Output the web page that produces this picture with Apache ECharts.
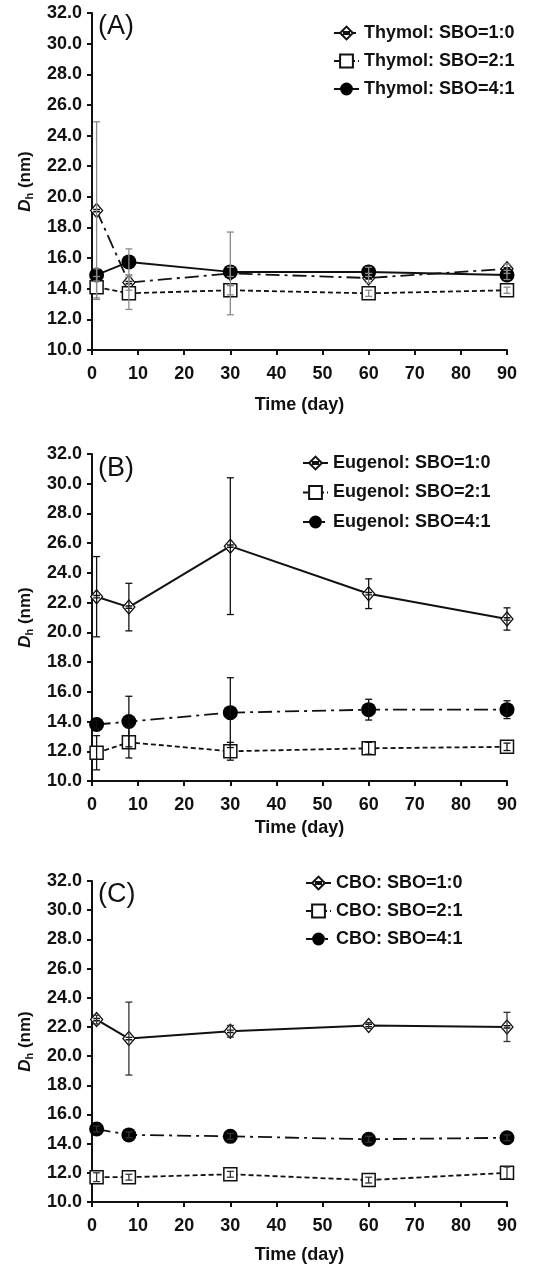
<!DOCTYPE html>
<html>
<head>
<meta charset="utf-8">
<script src="https://cdn.jsdelivr.net/npm/echarts@6/dist/echarts.min.js"></script>
<style>
  html, body { margin: 0; padding: 0; background: #fff; }
  #chart { width: 551px; height: 1267px; }
</style>
</head>
<body>
<div id="chart"></div>
<script>
// Sampling days
const days = [1, 8, 30, 60, 90];

// Axis ticks
const yTicks = [10, 12, 14, 16, 18, 20, 22, 24, 26, 28, 30, 32];
const xTicks = [0, 10, 20, 30, 40, 50, 60, 70, 80, 90];

// (A) Thymol — mean hydrodynamic diameter (nm) and standard deviation
const thymol10 = [19.1, 14.4, 15.0, 14.7, 15.3];
const thymol10Err = [5.8, 0.5, 2.7, 0.3, 0.3];
const thymol21 = [14.1, 13.7, 13.9, 13.7, 13.9];
const thymol21Err = [0.7, 1.05, 0.3, 0.2, 0.2];
const thymol41 = [14.9, 15.75, 15.1, 15.1, 14.9];
const thymol41Err = [0.4, 0.85, 0.3, 0.3, 0.3];

// (B) Eugenol
const eugenol10 = [22.4, 21.7, 25.8, 22.6, 20.9];
const eugenol10Err = [2.7, 1.6, 4.6, 1.0, 0.75];
const eugenol21 = [11.9, 12.6, 12.0, 12.2, 12.3];
const eugenol21Err = [1.15, 1.05, 0.6, 0.4, 0.25];
const eugenol41 = [13.8, 14.0, 14.6, 14.8, 14.8];
const eugenol41Err = [0.3, 1.7, 2.35, 0.7, 0.6];

// (C) CBO
const cbo10 = [22.5, 21.2, 21.7, 22.1, 22.0];
const cbo10Err = [0.3, 2.5, 0.4, 0.2, 1.0];
const cbo21 = [11.7, 11.7, 11.9, 11.5, 12.0];
const cbo21Err = [0.3, 0.2, 0.2, 0.2, 0.4];
const cbo41 = [15.0, 14.6, 14.5, 14.3, 14.4];
const cbo41Err = [0.2, 0.2, 0.2, 0.2, 0.2];

const FONT = "'Liberation Sans', Arial, Helvetica, sans-serif";

// Marker shapes
const diamondSymbol = 'path://M5,0 L10,6 L5,12 L0,6 Z M2.2,5 L7.8,5 M2.2,7 L7.8,7';
const markers = {
  r10: { symbol: diamondSymbol, symbolSize: [12, 14], itemStyle: { color: '#fff', borderColor: '#111', borderWidth: 1.3 } },
  r21: { symbol: 'rect', symbolSize: 13, itemStyle: { color: '#fff', borderColor: '#111', borderWidth: 1.5 } },
  r41: { symbol: 'circle', symbolSize: 15, itemStyle: { color: '#000', borderColor: '#000', borderWidth: 0 } }
};
const dashes = {
  solid: { type: 'solid', width: 2 },
  dashed: { type: [5, 3], width: 1.8 },
  dashDot: { type: [14, 5, 3, 5], width: 1.8 }
};

// Panel definitions
const panels = [
  {
    tag: '(A)', top: 13, height: 337, nameGap: 46, legendLeft: 333, legendTop: 24, legendGap: 10, tagTop: 13,
    barColor: '#8a8a8a',
    series: [
      { name: 'Thymol: SBO=1:0', mean: thymol10, err: thymol10Err, marker: 'r10', line: 'dashDot' },
      { name: 'Thymol: SBO=2:1', mean: thymol21, err: thymol21Err, marker: 'r21', line: 'dashed' },
      { name: 'Thymol: SBO=4:1', mean: thymol41, err: thymol41Err, marker: 'r41', line: 'solid' }
    ]
  },
  {
    tag: '(B)', top: 454, height: 327, nameGap: 38, legendLeft: 302, legendTop: 454, legendGap: 11.5, tagTop: 455,
    barColor: '#111',
    series: [
      { name: 'Eugenol: SBO=1:0', mean: eugenol10, err: eugenol10Err, marker: 'r10', line: 'solid' },
      { name: 'Eugenol: SBO=2:1', mean: eugenol21, err: eugenol21Err, marker: 'r21', line: 'dashed' },
      { name: 'Eugenol: SBO=4:1', mean: eugenol41, err: eugenol41Err, marker: 'r41', line: 'dashDot' }
    ]
  },
  {
    tag: '(C)', top: 881, height: 321, nameGap: 44, legendLeft: 305, legendTop: 874, legendGap: 10, tagTop: 881,
    barColor: '#333',
    series: [
      { name: 'CBO: SBO=1:0', mean: cbo10, err: cbo10Err, marker: 'r10', line: 'solid' },
      { name: 'CBO: SBO=2:1', mean: cbo21, err: cbo21Err, marker: 'r21', line: 'dashed' },
      { name: 'CBO: SBO=4:1', mean: cbo41, err: cbo41Err, marker: 'r41', line: 'dashDot' }
    ]
  }
];

function errorBarRenderer(color) {
  return function (params, api) {
    const x = api.value(0);
    const lo = api.coord([x, api.value(1)]);
    const hi = api.coord([x, api.value(2)]);
    const half = 3.5;
    const style = { stroke: color, lineWidth: 1.3, fill: null };
    return {
      type: 'group',
      children: [
        { type: 'line', shape: { x1: lo[0], y1: lo[1], x2: hi[0], y2: hi[1] }, style: style },
        { type: 'line', shape: { x1: lo[0] - half, y1: lo[1], x2: lo[0] + half, y2: lo[1] }, style: style },
        { type: 'line', shape: { x1: hi[0] - half, y1: hi[1], x2: hi[0] + half, y2: hi[1] }, style: style }
      ]
    };
  };
}

const grid = [], xAxis = [], yAxis = [], legend = [], title = [], series = [];

panels.forEach(function (p, i) {
  grid.push({ left: 92, width: 415, top: p.top, height: p.height, containLabel: false });

  xAxis.push({
    gridIndex: i, type: 'value', min: xTicks[0], max: xTicks[xTicks.length - 1], interval: 10,
    name: 'Time (day)', nameLocation: 'middle', nameGap: p.nameGap,
    nameTextStyle: { fontFamily: FONT, fontSize: 18, fontWeight: 'bold', color: '#111' },
    axisLine: { lineStyle: { color: '#111', width: 2 } },
    axisTick: { length: 5, lineStyle: { color: '#111', width: 2 } },
    axisLabel: { margin: 15, fontFamily: FONT, fontSize: 18, fontWeight: 'bold', color: '#111' },
    splitLine: { show: false }
  });

  yAxis.push({
    gridIndex: i, type: 'value', min: yTicks[0], max: yTicks[yTicks.length - 1], interval: 2,
    name: '{i|D}{s|h} (nm)', nameLocation: 'middle', nameGap: 57,
    nameTextStyle: {
      fontFamily: FONT, fontSize: 17, fontWeight: 'bold', color: '#111',
      rich: {
        i: { fontFamily: FONT, fontSize: 17, fontWeight: 'bold', fontStyle: 'italic', color: '#111' },
        s: { fontFamily: FONT, fontSize: 11, fontWeight: 'bold', color: '#111', padding: [9, 0, 0, 0] }
      }
    },
    axisLine: { show: true, lineStyle: { color: '#111', width: 2 } },
    axisTick: { show: true, length: 5, lineStyle: { color: '#111', width: 2 } },
    axisLabel: {
      margin: 10, fontFamily: FONT, fontSize: 18, fontWeight: 'bold', color: '#111',
      formatter: function (v) { return v.toFixed(1); }
    },
    splitLine: { show: false }
  });

  title.push({
    text: p.tag, left: 98, top: p.tagTop, padding: 0,
    textStyle: { fontFamily: FONT, fontSize: 27, fontWeight: 'normal', color: '#111' }
  });

  legend.push({
    orient: 'vertical', left: p.legendLeft, top: p.legendTop, padding: 0,
    itemWidth: 25, itemHeight: 16, itemGap: p.legendGap,
    data: p.series.map(function (s) { return s.name; }),
    textStyle: { fontFamily: FONT, fontSize: 18, fontWeight: 'bold', color: '#111' },
    selectedMode: false
  });

  p.series.forEach(function (s) {
    const m = markers[s.marker];
    series.push({
      name: s.name, type: 'line', xAxisIndex: i, yAxisIndex: i,
      data: days.map(function (d, k) { return [d, s.mean[k]]; }),
      symbol: m.symbol, symbolSize: m.symbolSize, showAllSymbol: true,
      itemStyle: m.itemStyle,
      lineStyle: Object.assign({ color: '#111' }, dashes[s.line]),
      z: 2, animation: false
    });
  });

  p.series.forEach(function (s) {
    series.push({
      type: 'custom', xAxisIndex: i, yAxisIndex: i,
      renderItem: errorBarRenderer(p.barColor),
      data: days.map(function (d, k) { return [d, s.mean[k] - s.err[k], s.mean[k] + s.err[k]]; }),
      encode: { x: 0, y: [1, 2] },
      z: 3, silent: true, animation: false
    });
  });
});

const chart = echarts.init(document.getElementById('chart'), null, { renderer: 'canvas' });
chart.setOption({
  backgroundColor: '#fff',
  animation: false,
  title: title,
  grid: grid,
  xAxis: xAxis,
  yAxis: yAxis,
  legend: legend,
  series: series
});
</script>
</body>
</html>
